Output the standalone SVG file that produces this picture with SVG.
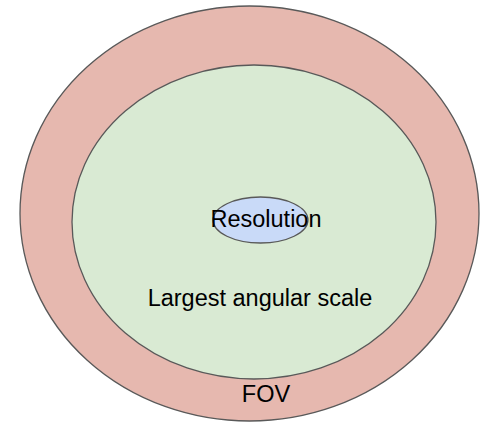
<svg xmlns="http://www.w3.org/2000/svg" width="481" height="423" viewBox="0 0 481 423">
<style>
.shape{stroke:#595959;stroke-width:1.3}
.label{font-family:"Liberation Sans",Arial,sans-serif;font-size:23.5px;fill:#000;text-anchor:middle}
</style>
<rect width="481" height="423" fill="#ffffff"/>
<g id="fov">
<ellipse class="shape" cx="249.5" cy="213.5" rx="229.5" ry="207.5" fill="#e6b8af"/>
<text class="label" x="266" y="401.5">FOV</text>
</g>
<g id="las">
<ellipse class="shape" cx="254" cy="222" rx="182" ry="157" fill="#d9ead3"/>
<text class="label" x="260" y="306">Largest angular scale</text>
</g>
<g id="resolution">
<ellipse class="shape" cx="260.5" cy="220" rx="47.5" ry="23" fill="#c9daf8"/>
<text class="label" x="266" y="226.5">Resolution</text>
</g>
<g id="connectors"/>
</svg>
